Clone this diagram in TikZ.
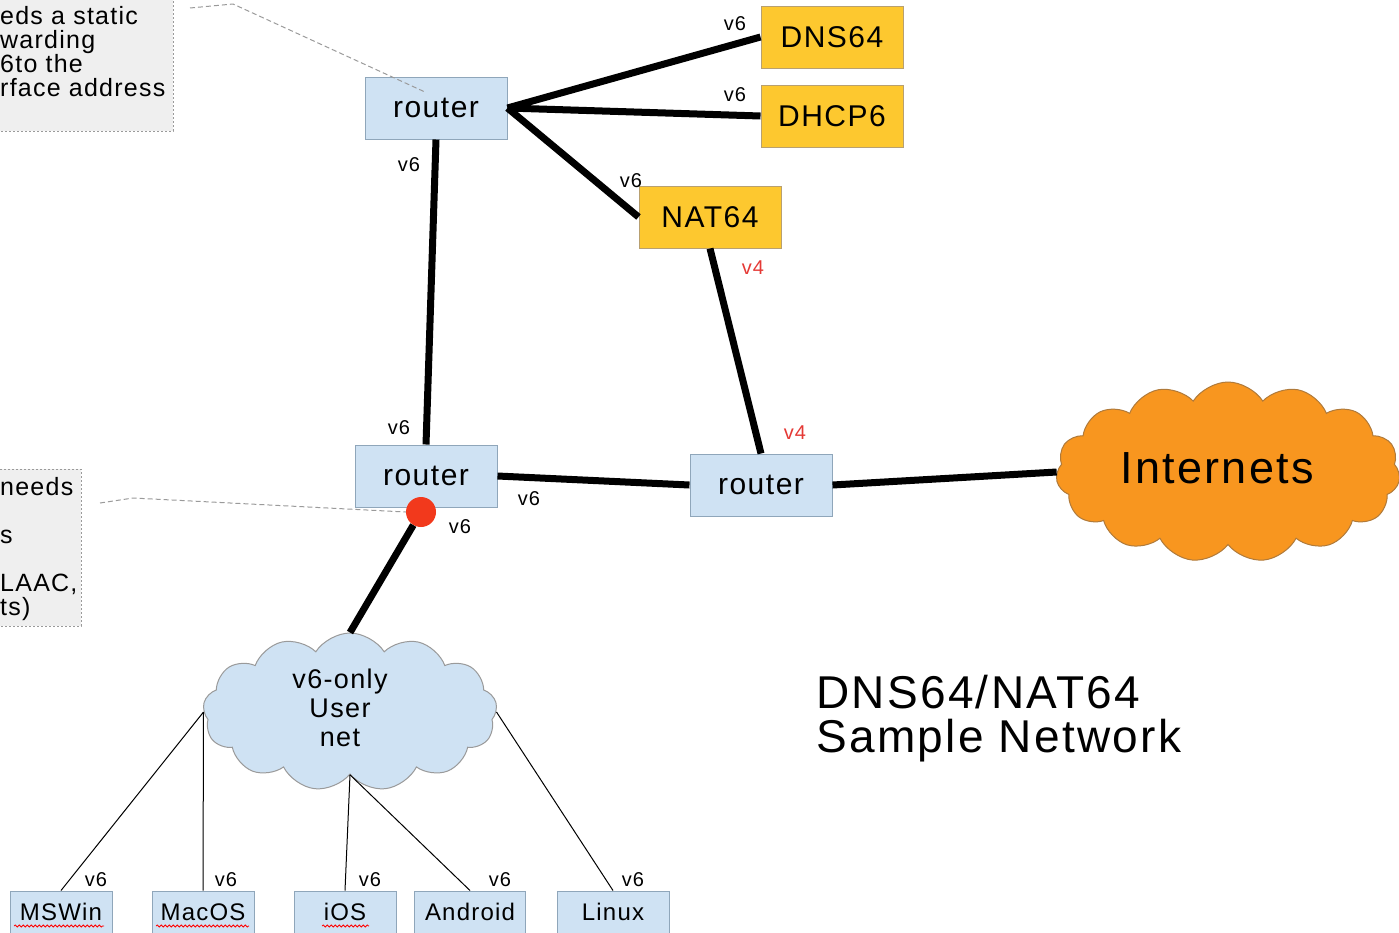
\documentclass[tikz,border=0pt]{standalone}
\usepackage{fontspec}
\setmainfont{Liberation Sans}[LetterSpace=5]
\usetikzlibrary{shapes.symbols,decorations.pathmorphing}
\definecolor{boxblue}{HTML}{CFE2F3}
\definecolor{boxline}{HTML}{8FA6BA}
\definecolor{gold}{HTML}{FDC82F}
\definecolor{goldline}{HTML}{B8A070}
\definecolor{orng}{HTML}{F8961F}
\definecolor{orngline}{HTML}{B07A3A}
\definecolor{notefill}{HTML}{EFEFEF}
\definecolor{noteline}{HTML}{9A9A9A}
\definecolor{reddot}{HTML}{F2391C}
\definecolor{vfour}{HTML}{E53935}
\tikzset{
  devbox/.style={draw=boxline, fill=boxblue, line width=1pt, minimum width=142pt, minimum height=62pt, inner sep=0pt, font=\fontsize{30}{34}\selectfont},
  svcbox/.style={devbox, draw=goldline, fill=gold},
  leafbox/.style={draw=boxline, fill=boxblue, line width=1pt, minimum width=102pt, minimum height=42pt, inner sep=0pt, font=\fontsize{24}{28}\selectfont},
  thick link/.style={line width=7pt},
  thin link/.style={line width=1pt},
  lbl/.style={font=\fontsize{20}{22}\selectfont, inner sep=0pt},
  redlbl/.style={lbl, text=vfour},
  callout/.style={draw=noteline, line width=1pt, dash pattern=on 5pt off 3pt},
  notebox/.style={draw=noteline, fill=notefill, line width=1pt, dash pattern=on 2pt off 2pt},
  notetext/.style={font=\fontsize{25}{24}\selectfont, align=left, inner sep=0pt, anchor=north west},
  spell/.style={draw=red, line width=0.8pt, decorate, decoration={snake, amplitude=1pt, segment length=4pt}},
}
\begin{document}
\begin{tikzpicture}[x=1pt,y=-1pt]
\useasboundingbox (0,0) rectangle (1399,932);
\fill[white] (0,0) rectangle (1399,932);

% notes
\draw[notebox] (-10,-10) rectangle (173,131);
\node[notetext] (note1) at (0,6) {eds a static\\warding\\6to the\\rface address};
\draw[notebox] (-10,469) rectangle (81,626);
\node[notetext] (note2) at (0,477) {needs\\\\s\\\\LAAC,\\ts)};

% devices
\node[devbox] (r1) at (436,108) {router};
\node[svcbox] (dns) at (832,37) {DNS64};
\node[svcbox] (dhcp) at (832,116) {DHCP6};
\node[svcbox] (nat) at (710,217) {NAT64};
\node[devbox] (r2) at (426,476) {router};
\node[devbox] (r3) at (761,485) {router};
\node[cloud, cloud puffs=15, cloud puff arc=115, cloud ignores aspect, draw=orngline, fill=orng, line width=1pt,
      minimum width=344pt, minimum height=180pt, inner sep=0pt] (inet) at (1228,472) {};
\node[font=\fontsize{45}{50}\selectfont, inner sep=0pt] (inettxt) at (1217,468) {Internets};
\node[cloud, cloud puffs=13, cloud puff arc=115, cloud ignores aspect, draw=noteline, fill=boxblue, line width=1pt,
      minimum width=294pt, minimum height=158pt, inner sep=0pt] (ucl) at (350,712) {};
\node[align=center, inner sep=0pt, font=\fontsize{27}{29}\selectfont] (ucltxt) at (340,708) {v6-only\\User\\net};

% leaves
\node[leafbox] (msw) at (61,912) {MSWin};
\node[leafbox] (mac) at (203,912) {MacOS};
\node[leafbox] (ios) at (345,912) {iOS};
\node[leafbox, minimum width=111pt] (andr) at (470,912) {Android};
\node[leafbox, minimum width=112pt] (lin) at (613,912) {Linux};
\draw[spell] (14,926) -- (104,926);
\draw[spell] (156,926) -- (249,926);
\draw[spell] (322,926) -- (369,926);

% thick links
\draw[thick link] (r1.east) -- (dns.west);
\draw[thick link] (r1.east) -- (dhcp.west);
\draw[thick link] (r1.east) -- (nat.west);
\draw[thick link] (r1.south) -- (r2.north);
\draw[thick link] (nat.south) -- (r3.north);
\draw[thick link] (r2.east) -- (r3.west);
\draw[thick link] (r3.east) -- (inet.west);

\node[circle, fill=reddot, minimum size=30pt, inner sep=0pt] (dot) at (421,512) {};
\draw[thick link] (dot) -- (ucl.north);

% thin links
\draw[thin link] (ucl.west) -- (msw.north);
\draw[thin link] (ucl.west) -- (mac.north);
\draw[thin link] (ucl.south) -- (ios.north);
\draw[thin link] (ucl.south) -- (andr.north);
\draw[thin link] (ucl.east) -- (lin.north);

% callouts
\coordinate (c1) at (190,8);
\coordinate (c2) at (233,4);
\coordinate (c3) at (425,92);
\draw[callout] (c1) -- (c2) -- (c3);
\coordinate (c4) at (100,503);
\coordinate (c5) at (133,498);
\draw[callout] (c4) -- (c5) -- (dot.west);

% labels
\node[lbl] at (735,24) {v6};
\node[lbl] at (735,95) {v6};
\node[lbl] at (631,181) {v6};
\node[lbl] at (409,165) {v6};
\node[lbl] at (399,428) {v6};
\node[lbl] at (529,499) {v6};
\node[lbl] at (460,527) {v6};
\node[redlbl] at (753,268) {v4};
\node[redlbl] at (795,433) {v4};
\node[lbl] at (96,880) {v6};
\node[lbl] at (226,880) {v6};
\node[lbl] at (370,880) {v6};
\node[lbl] at (500,880) {v6};
\node[lbl] at (633,880) {v6};

% title
\node[anchor=north west, align=left, inner sep=0pt, font=\fontsize{46}{44}\selectfont] (title) at (816,675) {DNS64/NAT64\\Sample Network};
\end{tikzpicture}
\end{document}
